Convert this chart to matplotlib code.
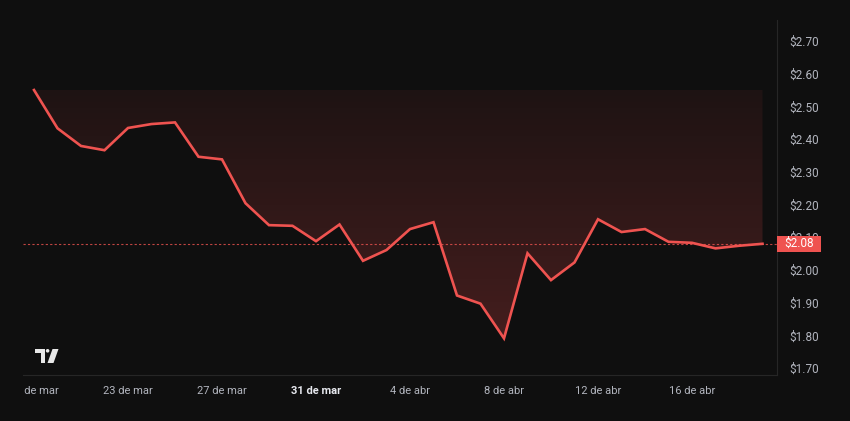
import matplotlib
matplotlib.use("Agg")
import matplotlib.pyplot as plt
import matplotlib.patches as mpatches
from matplotlib.transforms import Bbox, TransformedBbox
import numpy as np

# daily closing price, 19 mar -> 19 abr
prices = [2.55, 2.433, 2.379, 2.366, 2.434, 2.446, 2.451, 2.346, 2.338, 2.204,
          2.137, 2.135, 2.088, 2.139, 2.028, 2.061, 2.125, 2.146, 1.922, 1.897,
          1.791, 2.051, 1.969, 2.023, 2.155, 2.116, 2.125, 2.086, 2.083, 2.066,
          2.074, 2.08]
tick_idx = [0, 4, 8, 12, 16, 20, 24, 28]
tick_labels = ["19 de mar", "23 de mar", "27 de mar", "31 de mar",
               "4 de abr", "8 de abr", "12 de abr", "16 de abr"]
y_ticks = [1.70, 1.80, 1.90, 2.00, 2.10, 2.20, 2.30, 2.40, 2.50, 2.60, 2.70]
last_price = 2.08

BG = "#0f0f0f"
RED = "#ef5350"
GRID = "#262626"
TXT = "#b2b5be"

plt.rcParams["font.family"] = ["Roboto", "DejaVu Sans"]

W, H = 850, 421
fig = plt.figure(figsize=(W / 100, H / 100), dpi=100, facecolor=BG)
ax = fig.add_axes([23 / W, (H - 375) / H, (777 - 23) / W, (375 - 20) / H])
ax.set_facecolor(BG)

x = np.arange(len(prices))
p = np.array(prices)
top = p.max()

# gradient fill between the line and the top level
poly = ax.fill_between(x, p, top, facecolor="none", edgecolor="none")
n = 256
grad = np.zeros((n, 1, 4))
grad[..., 0] = 0.94
grad[..., 1] = 0.30
grad[..., 2] = 0.30
grad[:, 0, 3] = np.linspace(0.24, 0.07, n)
img = ax.imshow(grad, extent=[x[0], x[-1], p.min(), top], origin="lower",
                aspect="auto", zorder=1, interpolation="bilinear")
img.set_clip_path(poly.get_paths()[0], transform=ax.transData)

ax.plot(x, p, color=RED, lw=1.9, zorder=3, solid_joinstyle="miter")
ax.axhline(last_price, color=RED, lw=0.8, ls=(0, (2, 2)), alpha=0.8, zorder=2)

ax.set_xlim(-0.468, 31.617)
ax.set_ylim(1.679, 2.764)

for s in ["top", "left"]:
    ax.spines[s].set_visible(False)
for s in ["right", "bottom"]:
    ax.spines[s].set_color(GRID)
    ax.spines[s].set_linewidth(0.8)

ax.yaxis.tick_right()
ax.set_yticks(y_ticks)
ax.set_yticklabels([f"${v:.2f}" for v in y_ticks])
ax.tick_params(axis="y", length=0, pad=9, labelsize=8.5, labelcolor=TXT)

ax.set_xticks(tick_idx)
ax.set_xticklabels(tick_labels)
ax.tick_params(axis="x", length=0, pad=8, labelsize=8, labelcolor=TXT)
clip = TransformedBbox(Bbox.from_extents(23 / W, 0, 1, 1), fig.transFigure)
for lbl in ax.get_xticklabels():
    lbl.set_clip_box(clip)
    lbl.set_clip_on(True)
    if lbl.get_text() == "31 de mar":
        lbl.set_fontweight("bold")
        lbl.set_color("#e6e8ee")

# last price tag on the price scale
ytr = ax.get_yaxis_transform()
tag_h = 16 / 327  # px -> price units
ax.add_patch(mpatches.Rectangle((1.0, last_price - tag_h / 2), 44 / 754, tag_h,
                                transform=ytr, fc=RED, ec="none", zorder=9, clip_on=False))
ax.text(1.0 + 22 / 754, last_price, f"${last_price:.2f}", transform=ytr,
        ha="center", va="center", fontsize=8.5, color="white", zorder=10, clip_on=False)


# TradingView logo, in pixel coords (top-down)
def px(pts):
    return [(a / W, (H - b) / H) for a, b in pts]


logo_c = "#e8e8e8"
fig.patches.append(mpatches.Polygon(px([(35, 349), (45, 349), (45, 363), (40.5, 363),
                                        (40.5, 352.6), (35, 352.6)]),
                                    closed=True, fc=logo_c, ec="none", transform=fig.transFigure))
fig.patches.append(mpatches.Ellipse((47.6 / W, (H - 350.8) / H), 3.6 / W, 3.6 / H,
                                    fc=logo_c, ec="none", transform=fig.transFigure))
fig.patches.append(mpatches.Polygon(px([(52.5, 349), (58.5, 349), (53.5, 363), (47.5, 363)]),
                                    closed=True, fc=logo_c, ec="none", transform=fig.transFigure))

fig.savefig("out.png", dpi=100, facecolor=BG)
